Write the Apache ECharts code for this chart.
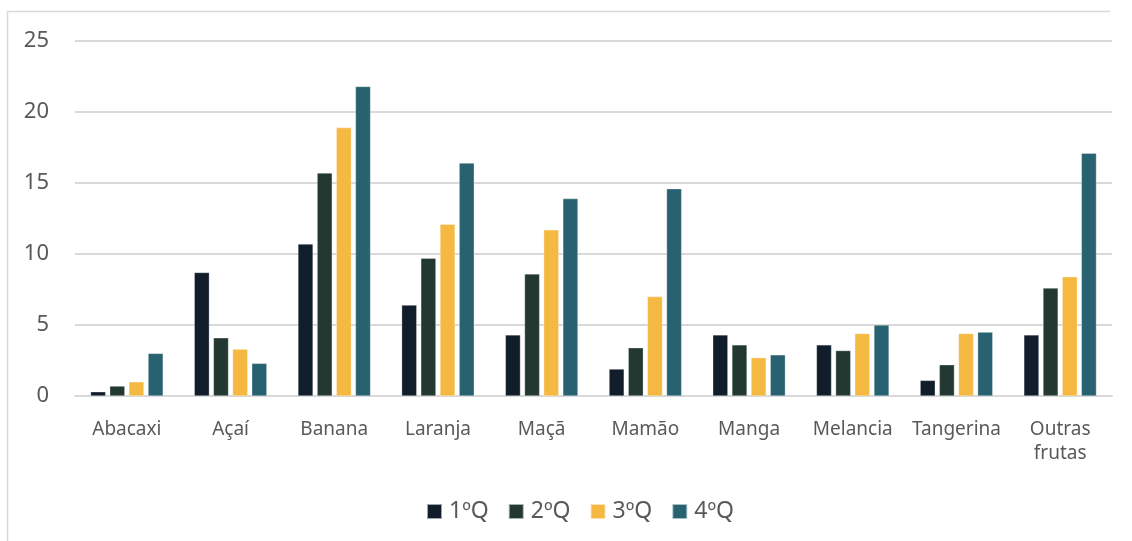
<!DOCTYPE html>
<html>
<head>
<meta charset="utf-8">
<script src="https://cdn.jsdelivr.net/npm/echarts@6/dist/echarts.min.js"></script>
<style>
html,body{margin:0;padding:0;background:#fff;}
#chart{width:1132px;height:541px;}
</style>
</head>
<body>
<div id="chart"></div>
<script>
var categories = ['Abacaxi','Açaí','Banana','Laranja','Maçã','Mamão','Manga','Melancia','Tangerina','Outras\nfrutas'];
var seriesNames = ['1ºQ','2ºQ','3ºQ','4ºQ'];
var q1 = [0.3, 8.7, 10.7, 6.4, 4.3, 1.9, 4.3, 3.6, 1.1, 4.3];
var q2 = [0.7, 4.1, 15.7, 9.7, 8.6, 3.4, 3.6, 3.2, 2.2, 7.6];
var q3 = [1.0, 3.3, 18.9, 12.1, 11.7, 7.0, 2.7, 4.4, 4.4, 8.4];
var q4 = [3.0, 2.3, 21.8, 16.4, 13.9, 14.6, 2.9, 5.0, 4.5, 17.1];
var yTicks = [0, 5, 10, 15, 20, 25];
var colors = ['#121d2c', '#233830', '#f5b942', '#286270'];

var chart = echarts.init(document.getElementById('chart'), null, {renderer:'canvas'});
var font = '"Noto Sans", "Open Sans", sans-serif';
var data = [q1, q2, q3, q4];
chart.setOption({
  animation: false,
  backgroundColor: '#fff',
  color: colors,
  textStyle: {fontFamily: font},
  graphic: [
    {type:'line', shape:{x1:7.5, y1:11, x2:7.5, y2:541}, style:{stroke:'#d9d9d9', lineWidth:1.5}},
    {type:'line', shape:{x1:7, y1:11.5, x2:1110, y2:11.5}, style:{stroke:'#d9d9d9', lineWidth:1.5}}
  ],
  grid: {left: 75, right: 20, top: 41, bottom: 145, containLabel: false},
  legend: {
    top: 495, left: 421,
    itemWidth: 15, itemHeight: 15, itemGap: 19,
    icon: 'rect',
    textStyle: {fontSize: 23, color: '#595959', fontFamily: font, padding: [0, 0, 0, 2]},
    data: seriesNames
  },
  xAxis: {
    type: 'category',
    data: categories,
    axisLine: {show: true, lineStyle: {color: '#d9d9d9', width: 2}},
    axisTick: {show: false},
    axisLabel: {fontSize: 19, color: '#595959', margin: 22, lineHeight: 24, interval: 0}
  },
  yAxis: {
    type: 'value',
    min: yTicks[0], max: yTicks[yTicks.length-1], interval: 5,
    axisLine: {show: false},
    axisTick: {show: false},
    axisLabel: {fontSize: 22, color: '#595959', margin: 26},
    splitLine: {lineStyle: {color: '#d9d9d9', width: 2}}
  },
  series: seriesNames.map(function(n, i){
    return {
      name: n, type: 'bar', data: data[i],
      barGap: '27%', barCategoryGap: '30%',
      itemStyle: {color: colors[i], borderColor: 'rgba(255,255,255,0.6)', borderWidth: 0.5}
    };
  })
});
</script>
</body>
</html>
